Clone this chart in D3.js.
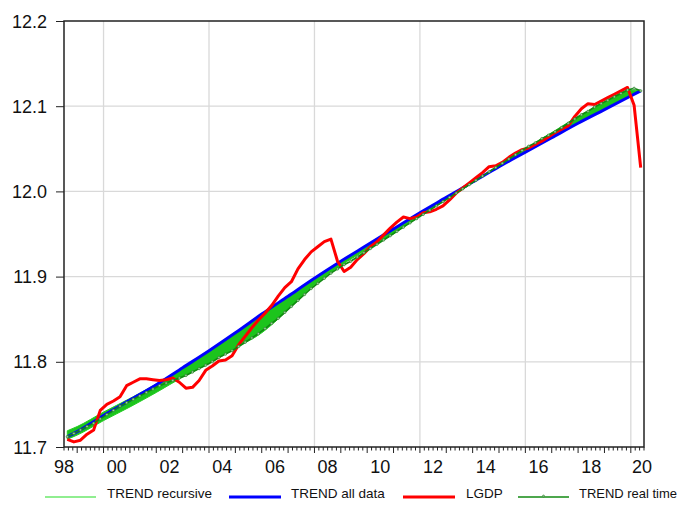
<!DOCTYPE html>
<html><head><meta charset="utf-8">
<script src="https://cdn.jsdelivr.net/npm/d3@7"></script>
<style>html,body{margin:0;padding:0;background:#fff;}svg{display:block;}</style>
</head><body>
<svg id="chart" width="681" height="508"></svg>
<script>
// ---- data ----
const startYear = 1998.625; // 1998Q3 (quarter mid-points)
const lgdp = [11.709,11.706,11.708,11.715,11.720,11.743,11.750,11.754,11.759,11.772,11.776,11.780,11.780,11.779,11.778,11.779,
11.781,11.776,11.769,11.770,11.778,11.790,11.795,11.801,11.802,11.807,11.820,11.830,11.840,11.849,11.857,11.866,
11.877,11.887,11.894,11.909,11.920,11.929,11.935,11.941,11.944,11.918,11.906,11.911,11.920,11.927,11.935,11.941,
11.949,11.957,11.964,11.970,11.968,11.970,11.975,11.976,11.979,11.983,11.990,11.998,12.004,12.010,12.016,12.022,
12.029,12.030,12.034,12.040,12.045,12.049,12.051,12.055,12.059,12.064,12.069,12.073,12.077,12.088,12.097,12.103,
12.102,12.106,12.110,12.114,12.118,12.122,12.101,12.028];
const trendRealTime = [11.712,11.716,11.720,11.724,11.728,11.733,11.738,11.743,11.748,11.752,11.756,11.760,11.764,11.768,11.772,11.775,
11.778,11.781,11.784,11.788,11.792,11.796,11.800,11.805,11.809,11.813,11.818,11.823,11.828,11.833,11.839,11.845,
11.851,11.858,11.865,11.872,11.879,11.886,11.892,11.898,11.904,11.909,11.914,11.918,11.923,11.928,11.933,11.938,
11.943,11.948,11.953,11.958,11.963,11.968,11.973,11.978,11.983,11.988,11.993,11.998,12.003,12.008,12.013,12.018,
12.023,12.028,12.033,12.038,12.043,12.048,12.053,12.057,12.062,12.066,12.070,12.075,12.080,12.085,12.090,12.094,
12.099,12.103,12.107,12.111,12.115,12.119,12.121,12.118];
const trendYears = [1998.625,1999,2000,2001,2002,2003,2004,2005,2006,2007,2008,2009,2010,2011,2012,2013,2014,2015,2016,2017,2018,2019,2020,2020.375];
const trendAllData = [11.712,11.718,11.737,11.755,11.773,11.793,11.813,11.834,11.856,11.877,11.898,11.918,11.937,11.956,11.975,11.993,12.011,12.029,12.046,12.063,12.080,12.096,12.112,12.118];
const recursiveUpper = [11.719,11.724,11.741,11.757,11.774,11.793,11.813,11.834,11.856,11.877,11.898,11.918,11.937,11.956,11.975,11.993,12.011,12.030,12.050,12.069,12.088,12.105,12.119,12.118];
const recursiveLower = [11.709,11.714,11.731,11.747,11.764,11.782,11.798,11.816,11.834,11.861,11.890,11.913,11.932,11.950,11.971,11.990,12.010,12.029,12.046,12.063,12.080,12.096,12.112,12.118];
const yTicks = [11.7,11.8,11.9,12.0,12.1,12.2];
const xLabelYears = [1998,2000,2002,2004,2006,2008,2010,2012,2014,2016,2018,2020];
const xGridYears = [2000,2004,2008,2012,2016,2020];
const legendItems = ["TREND recursive","TREND all data","LGDP","TREND real time"];

// ---- layout ----
const svg = d3.select("#chart");
const L = 64, R = 644, T = 21, B = 447;
const x = d3.scaleLinear().domain([1998.5, 2020.5]).range([L, R]);
const y = d3.scaleLinear().domain([11.7, 12.2]).range([B, T]);
const font = "'Liberation Sans', Arial, sans-serif";

// gridlines
svg.append("g").selectAll("line.h").data(yTicks.filter(v => v > 11.7 && v < 12.2)).join("line")
  .attr("x1", L).attr("x2", R).attr("y1", d => y(d)).attr("y2", d => y(d))
  .attr("stroke", "#d9d9d9").attr("stroke-width", 1.3);
svg.append("g").selectAll("line.v").data(xGridYears).join("line")
  .attr("x1", d => x(d)).attr("x2", d => x(d)).attr("y1", T).attr("y2", B)
  .attr("stroke", "#d9d9d9").attr("stroke-width", 1.3);

const qx = (d, i) => x(startYear + 0.25 * i);

// recursive band
const band = trendYears.map((t, i) => ({t, u: recursiveUpper[i], l: recursiveLower[i]}));
svg.append("path").datum(band)
  .attr("d", d3.area().x(d => x(d.t)).y0(d => y(d.l)).y1(d => y(d.u)).curve(d3.curveMonotoneX))
  .attr("fill", "#1cc41c").attr("stroke", "#22cc22").attr("stroke-width", 1);

// trend all data
svg.append("path").datum(trendAllData)
  .attr("d", d3.line().x((d, i) => x(trendYears[i])).y(d => y(d)).curve(d3.curveMonotoneX))
  .attr("fill", "none").attr("stroke", "#0000ff").attr("stroke-width", 3);

// LGDP
svg.append("path").datum(lgdp)
  .attr("d", d3.line().x(qx).y(d => y(d)))
  .attr("fill", "none").attr("stroke", "#ff0000").attr("stroke-width", 3).attr("stroke-linejoin", "round");

// real time trend
svg.append("path").datum(trendRealTime)
  .attr("d", d3.line().x(qx).y(d => y(d)))
  .attr("fill", "none").attr("stroke", "#128a12").attr("stroke-width", 1.6);
svg.append("g").selectAll("circle").data(trendRealTime).join("circle")
  .attr("cx", qx).attr("cy", d => y(d)).attr("r", 1.2)
  .attr("fill", "#9fd09f").attr("stroke", "#2a7a2a").attr("stroke-width", 0.6);

// frame
svg.append("rect").attr("x", L).attr("y", T).attr("width", R - L).attr("height", B - T)
  .attr("fill", "none").attr("stroke", "#222").attr("stroke-width", 1.5);

// y axis
const yAxis = d3.axisLeft(y).tickValues(yTicks).tickFormat(d3.format(".1f")).tickSize(8).tickPadding(9);
const gy = svg.append("g").attr("transform", `translate(${L},0)`).call(yAxis);
gy.select(".domain").remove();
gy.selectAll("line").attr("stroke", "#222");
gy.selectAll("text").attr("font-family", font).attr("font-size", 18).attr("fill", "#111").attr("dy", "0.34em");

// x axis ticks (every two months, long ones at years)
const minorTicks = d3.range(0, 22 * 6 + 1).map(k => 1998.5 + k / 6);
svg.append("g").selectAll("line").data(minorTicks).join("line")
  .attr("x1", d => x(d)).attr("x2", d => x(d)).attr("y1", B)
  .attr("y2", d => Math.abs(d - Math.round(d)) < 1e-6 ? B + 6 : B + 3.5)
  .attr("stroke", "#222").attr("stroke-width", 1);
svg.append("g").selectAll("text").data(xLabelYears).join("text")
  .attr("x", d => Math.min(x(d + 0.5), 642)).attr("y", 473)
  .attr("text-anchor", "middle").attr("font-family", font).attr("font-size", 18).attr("fill", "#111")
  .text(d => String(d % 100).padStart(2, "0"));

// legend
const legendLines = [{x1: 45, x2: 96, c: "#22dd22", w: 1.2}, {x1: 229, x2: 281, c: "#0000ff", w: 3},
  {x1: 403, x2: 455, c: "#ff0000", w: 3}, {x1: 518, x2: 569, c: "#128a12", w: 1.6}];
const legendTextX = [107, 291, 466, 579];
const lg = svg.append("g");
legendItems.forEach((name, i) => {
  const s = legendLines[i];
  lg.append("line").attr("x1", s.x1).attr("x2", s.x2).attr("y1", 497).attr("y2", 497)
    .attr("stroke", s.c).attr("stroke-width", s.w);
  if (i === 3) lg.append("circle").attr("cx", (s.x1 + s.x2) / 2).attr("cy", 496).attr("r", 1)
    .attr("fill", "#9fd09f").attr("stroke", "#2a7a2a").attr("stroke-width", 0.6);
  lg.append("text").attr("x", legendTextX[i]).attr("y", 498).attr("font-family", font)
    .attr("font-size", 13.5).attr("textLength", i === 3 ? 98 : null).attr("lengthAdjust", "spacingAndGlyphs")
    .attr("fill", "#111").text(name);
});
</script>
</body></html>
